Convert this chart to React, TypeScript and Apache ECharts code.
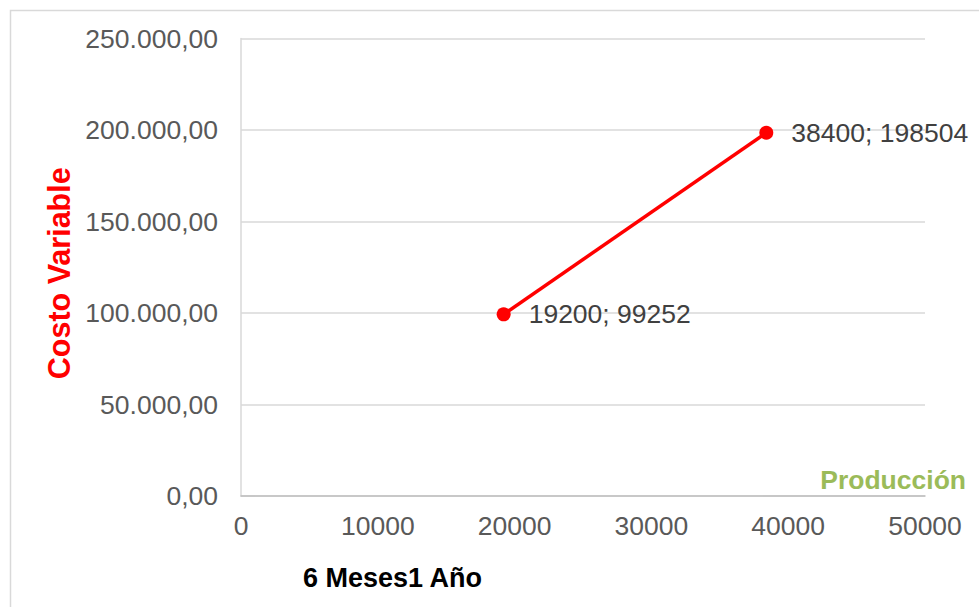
import React, { useEffect, useRef } from "react";
import * as echarts from "echarts";

const produccion = [19200, 38400];
const costoVariable = [99252, 198504];
const xTicks = [0, 10000, 20000, 30000, 40000, 50000];
const yTickStep = 50000;
const yMax = 250000;
const xMax = 50000;
const xTitle = "Producción";
const yTitle = "Costo Variable";
const subTitle = "6 Meses1 Año";

const FONT = "'Liberation Sans', Arial, sans-serif";

function fmtEs(v: number): string {
  const intPart = Math.round(v).toString().replace(/\B(?=(\d{3})+(?!\d))/g, ".");
  return intPart + ",00";
}

export default function App() {
  const ref = useRef<HTMLDivElement>(null);
  useEffect(() => {
    document.body.style.margin = "0";
    const chart = echarts.init(ref.current!, null, { renderer: "svg" });
    chart.setOption({
      animation: false,
      backgroundColor: "#ffffff",
      textStyle: { fontFamily: FONT },
      grid: { left: 241, right: 54, top: 38.5, bottom: 111, containLabel: false },
      xAxis: {
        type: "value",
        min: xTicks[0],
        max: xMax,
        interval: xTicks[1] - xTicks[0],
        axisLine: { show: true, lineStyle: { color: "#bfbfbf", width: 1.5 } },
        axisTick: { show: false },
        splitLine: { show: false },
        axisLabel: {
          color: "#595959",
          fontSize: 26.5,
          fontFamily: FONT,
          margin: 16,
          formatter: (v: number) => String(v),
        },
      },
      yAxis: {
        type: "value",
        min: 0,
        max: yMax,
        interval: yTickStep,
        name: yTitle,
        nameLocation: "middle",
        nameRotate: 90,
        nameGap: 164,
        nameTextStyle: {
          color: "#ff0000",
          fontSize: 30.5,
          fontWeight: "bold",
          fontFamily: FONT,
          padding: [0, 12, 0, 0],
        },
        axisLine: { show: true, lineStyle: { color: "#d9d9d9", width: 1.5 } },
        axisTick: { show: false },
        splitLine: { show: true, lineStyle: { color: "#d9d9d9", width: 1.5 } },
        axisLabel: {
          color: "#595959",
          fontSize: 26.5,
          fontFamily: FONT,
          margin: 23,
          formatter: (v: number) => fmtEs(v),
        },
      },
      series: [
        {
          type: "line",
          data: produccion.map((x, i) => [x, costoVariable[i]]),
          symbol: "circle",
          symbolSize: 14,
          lineStyle: { color: "#ff0000", width: 3.5 },
          itemStyle: { color: "#ff0000" },
          label: {
            show: true,
            position: "right",
            distance: 18,
            color: "#404040",
            fontSize: 26.5,
            fontFamily: FONT,
            formatter: (p: any) => `${p.value[0]}; ${p.value[1]}`,
          },
        },
      ],
      graphic: [
        {
          type: "rect",
          shape: { x: 10.5, y: 10.5, width: 1000, height: 700 },
          style: { fill: "none", stroke: "#d9d9d9", lineWidth: 1.5 },
          silent: true,
          z: -10,
        },
        {
          type: "text",
          right: 13,
          top: 466,
          style: { text: xTitle, fill: "#9bbb59", fontSize: 26.5, fontWeight: "bold", fontFamily: FONT },
        },
        {
          type: "text",
          left: 303,
          top: 564,
          style: { text: subTitle, fill: "#000000", fontSize: 27, fontWeight: "bold", fontFamily: FONT },
        },
      ],
    });
    return () => chart.dispose();
  }, []);
  return <div ref={ref} style={{ position: "fixed", left: 0, top: 0, width: 979, height: 607 }} />;
}
